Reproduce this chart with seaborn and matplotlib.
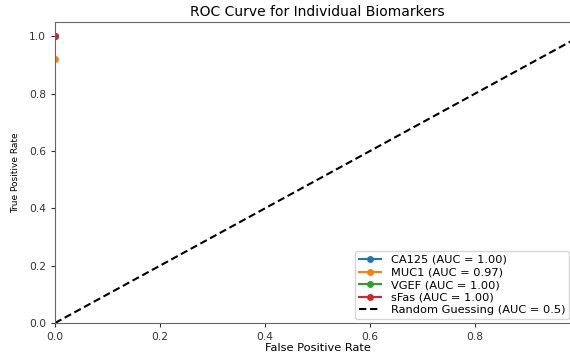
import matplotlib
matplotlib.use("Agg")
import matplotlib.pyplot as plt
import seaborn as sns

biomarkers = ["CA125", "MUC1", "VGEF", "sFas"]
auc_values = [1.00, 0.97, 1.00, 1.00]
fpr_values = [[0.0], [0.0], [0.0], [0.0]]
tpr_values = [[1.0], [0.92], [1.0], [1.0]]
colors = ["#1f77b4", "#ff7f0e", "#2ca02c", "#d62728"]
diag_x = [0.0, 1.0]
diag_y = [0.0, 1.0]
x_ticks = [0.0, 0.2, 0.4, 0.6, 0.8]
y_ticks = [0.0, 0.2, 0.4, 0.6, 0.8, 1.0]

fig = plt.figure(figsize=(5.70, 3.59), dpi=100)
W, H = 570, 359
left, right, top, bottom = 55, 580, 22, 323
ax = fig.add_axes([left / W, (H - bottom) / H, (right - left) / W, (bottom - top) / H])

for name, auc, fx, ty, c in zip(biomarkers, auc_values, fpr_values, tpr_values, colors):
    sns.lineplot(x=fx, y=ty, marker="o", markersize=5, markeredgewidth=0,
                 color=c, label=f"{name} (AUC = {auc:.2f})", ax=ax)

sns.lineplot(x=diag_x, y=diag_y, color="k", linestyle=(0, (3.5, 1.8)), linewidth=1.5,
             label="Random Guessing (AUC = 0.5)", ax=ax)

ax.set_xlim(0, 1)
ax.set_ylim(0, 1.05)
ax.set_xticks(x_ticks)
ax.set_yticks(y_ticks)
ax.tick_params(labelsize=7.7, length=3, width=0.8, colors="#333333")
for s in ax.spines.values():
    s.set_color("#666666")
ax.set_xlabel("False Positive Rate", fontsize=8.2, labelpad=1)
ax.set_ylabel("True Positive Rate", fontsize=6.5, labelpad=6)
ax.set_title("ROC Curve for Individual Biomarkers", fontsize=10.0, pad=4)
anchor_x = (569 - left) / (right - left)
anchor_y = (bottom - 319) / (bottom - top)
ax.legend(loc="lower right", bbox_to_anchor=(anchor_x, anchor_y), borderaxespad=0,
          fontsize=8.2, labelspacing=0.22, handlelength=2.0, borderpad=0.35)

fig.savefig("out.png", dpi=100)
